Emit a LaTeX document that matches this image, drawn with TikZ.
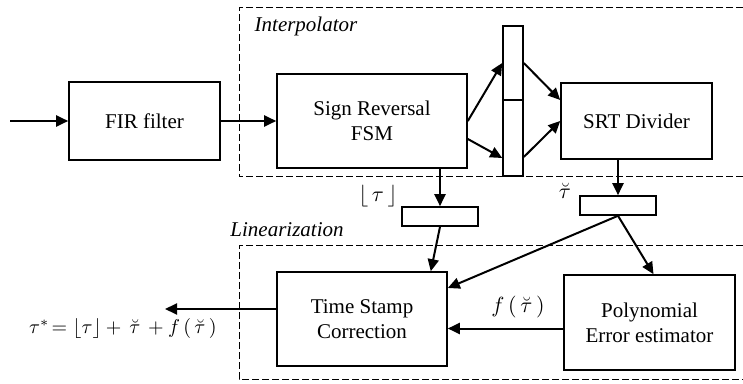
\documentclass[tikz,border=0pt]{standalone}
\usepackage{fontspec}
\setmainfont{Liberation Serif}
\usetikzlibrary{positioning,arrows.meta}

\begin{document}
\begin{tikzpicture}[
        x=0.5pt, y=-0.5pt,
        every node/.style={font=\fontsize{10.5}{12.5}\selectfont},
        block/.style={draw, thick, align=center, inner sep=0pt},
        regbox/.style={draw, thick, inner sep=0pt, minimum width=38pt, minimum height=9.5pt},
        groupbox/.style={dash pattern=on 3.5pt off 1.5pt, line width=0.5pt},
        grouplabel/.style={font=\fontsize{10.5}{12.5}\selectfont\itshape},
        siglabel/.style={inner sep=0.5pt},
        arrow/.style={-{Triangle[length=6pt, width=5.5pt]}, line width=1pt}
    ]
        \useasboundingbox (0,0) rectangle (743,384);

        % Dashed groups (open to the right)
        \draw[groupbox] (743,8) -| (239,177) -- (743,177);
        \draw[groupbox] (743,246) -| (239,379) -- (743,379);
        \node[grouplabel] (interp) at (306,26) {Interpolator};
        \node[grouplabel] (linear) at (287,230) {Linearization};

        % Blocks
        \node[block, minimum width=75.5pt, minimum height=39pt] (fir) at (144.5,121) {FIR filter};
        \node[block, minimum width=95pt, minimum height=47pt] (srfsm) at (372,121) {Sign Reversal\\FSM};
        \node[block, minimum width=75.5pt, minimum height=38pt] (srt) at (636.5,121) {SRT Divider};
        \node[block, minimum width=85pt, minimum height=47pt] (tsc) at (362,319) {Time Stamp\\Correction};
        \node[block, minimum width=85.5pt, minimum height=47.5pt] (poly) at (649.5,322.5) {Polynomial\\Error estimator};

        % Registers
        \node[regbox, minimum width=10pt, minimum height=37pt] (rega) at (513,63) {};
        \node[regbox, minimum width=10pt, minimum height=38pt] (regb) at (513,138) {};
        \node[regbox] (regl) at (440,216.5) {};
        \node[regbox] (regr) at (618,205.5) {};

        % Signal labels
        \node[siglabel] (floor) at (378,196) {$\lfloor\,\tau\,\rfloor$};
        \node[siglabel] (brv) at (565,191) {$\breve{\tau}$};
        \node[siglabel] (flab) at (518,307) {$f\,(\,\breve{\tau}\,)$};
        \node[siglabel, anchor=east, font=\fontsize{10}{12}\selectfont] (res) at (218,329)
            {$\tau^{*}\!=\lfloor\tau\rfloor+\,\breve{\tau}\,+f\,(\,\breve{\tau}\,)$};

        % Free ends
        \coordinate (in) at (10,121);
        \coordinate (out) at (165,309);

        % Forward path
        \draw[arrow] (in) -- (fir);
        \draw[arrow] (fir) -- (srfsm);
        \draw[arrow] (srfsm.east) -- (rega.west);
        \draw[arrow] ([yshift=-9pt]srfsm.east) -- ([yshift=-10pt]regb.west);
        \draw[arrow] (rega.east) -- ([yshift=10.5pt]srt.west);
        \draw[arrow] ([yshift=-9.5pt]regb.east) -- (srt.west);

        % Down to the registers
        \draw[arrow] (regl.north |- srfsm.south) -- (regl.north);
        \draw[arrow] (regr.north |- srt.south) -- (regr.north);

        % Linearization
        \draw[arrow] (regl.south) -- ([xshift=-8.5pt]tsc.north east);
        \draw[arrow] (regr.south) -- ([yshift=15.5pt]tsc.east);
        \draw[arrow] (regr.south) -- ([xshift=2pt]poly.north);
        \path ([yshift=-3pt]poly.west) coordinate (pe);
        \draw[arrow] (pe) -- (pe -| tsc.east);
        \draw[arrow] ([yshift=5pt]tsc.west) -- (out);

\end{tikzpicture}
\end{document}
